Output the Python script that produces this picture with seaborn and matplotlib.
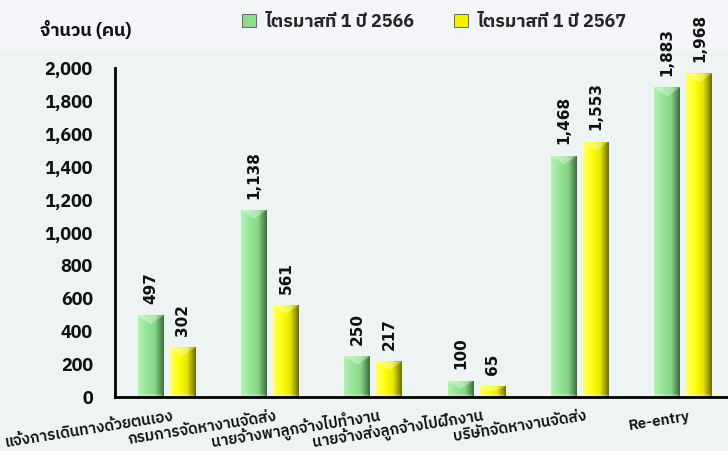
import numpy as np
import pandas as pd
import matplotlib
matplotlib.use("Agg")
import matplotlib.pyplot as plt
import matplotlib.transforms as mtransforms
from matplotlib.colors import LinearSegmentedColormap
from matplotlib.patches import Patch, Polygon, Rectangle
import seaborn as sns

categories = ['แจ้งการเดินทางด้วยตนเอง', 'กรมการจัดหางานจัดส่ง', 'นายจ้างพาลูกจ้างไปทำงาน',
              'นายจ้างส่งลูกจ้างไปฝึกงาน', 'บริษัทจัดหางานจัดส่ง', 'Re-entry']
series_names = ['ไตรมาสที่ 1 ปี 2566', 'ไตรมาสที่ 1 ปี 2567']
q1_2566 = [497, 1138, 250, 100, 1468, 1883]
q1_2567 = [302, 561, 217, 65, 1553, 1968]
y_ticks = [0, 200, 400, 600, 800, 1000, 1200, 1400, 1600, 1800, 2000]

bg = '#eef3f3'
bg_top = '#f3f5f8'
base_colors = ['#8fdc8f', '#f2f200']
shade_colors = [['#b4f2b4', '#98e498', '#86d486', '#3d6e3d'],
                ['#ffff70', '#ffff10', '#e6e600', '#6f6f00']]
thai = ['IBM Plex Sans Thai', 'DejaVu Sans']

df = pd.DataFrame({
    'cat': categories * 2,
    'val': q1_2566 + q1_2567,
    'series': [series_names[0]] * len(categories) + [series_names[1]] * len(categories),
})

sns.set_theme(style='white')
plt.rcParams['font.family'] = thai

fig = plt.figure(figsize=(7.28, 4.51), dpi=100, facecolor=bg)
# slightly lighter band at the top of the slide
fig.patches.append(Rectangle((0, 1 - 50 / 451), 1, 50 / 451, transform=fig.transFigure,
                             facecolor=bg_top, edgecolor='none', zorder=-1))
ax = fig.add_axes([0.158, 0.1197, 0.8516, 0.7295])
ax.set_facecolor('none')

sns.barplot(data=df, x='cat', y='val', hue='series', palette=base_colors,
            width=0.62, gap=0.19, legend=False, ax=ax, saturation=1)

ax.set_ylim(0, 2000)
ax.set_xlim(-0.5, len(categories) - 0.5)

# bevel look on every bar
px = 2000 / (397 - 68)
for i, cont in enumerate(ax.containers):
    cmap = LinearSegmentedColormap.from_list('b%d' % i, shade_colors[i])
    grad = np.linspace(0, 1, 64).reshape(1, -1)
    for bar in cont:
        x0, w, h = bar.get_x(), bar.get_width(), bar.get_height()
        bar.set_edgecolor('none')
        im = ax.imshow(grad, cmap=cmap, extent=(x0, x0 + w, 0, h), aspect='auto',
                       origin='lower', zorder=bar.get_zorder() + 0.1)
        im.set_clip_path(bar)
        d = min(9 * px, h * 0.5)
        ax.add_patch(Polygon([(x0, h), (x0 + w, h), (x0 + w / 2, h - d)], closed=True,
                             facecolor='white', alpha=0.35, edgecolor='none',
                             zorder=bar.get_zorder() + 0.2))
        ax.add_patch(Polygon([(x0, 0), (x0 + w, 0), (x0 + w * 0.9, 3 * px), (x0 + w * 0.1, 3 * px)],
                             closed=True, facecolor='white', alpha=0.25, edgecolor='none',
                             zorder=bar.get_zorder() + 0.2))
    ax.bar_label(cont, labels=[f'{int(v):,}' for v in cont.datavalues], rotation=90,
                 padding=8, fontsize=11, fontweight='bold', family='DejaVu Sans', color='#111111')

ax.set_ylim(0, 2000)
ax.set_xlim(-0.5, len(categories) - 0.5)
ax.set_yticks(y_ticks)
ax.set_yticklabels([f'{v:,}' for v in y_ticks], fontsize=13, fontweight='bold', family=thai)
ax.tick_params(axis='y', length=0, pad=16, colors='#111111')
ax.set_xticks(range(len(categories)))
ax.set_xticklabels([])
ax.tick_params(axis='x', length=0)
ax.set_xlabel('')
ax.set_ylabel('')

for side in ['top', 'right']:
    ax.spines[side].set_visible(False)
for side in ['left', 'bottom']:
    ax.spines[side].set_color('black')
    ax.spines[side].set_linewidth(2)

# category labels, slightly tilted
tr = ax.get_xaxis_transform() + mtransforms.ScaledTranslation(7 / 100, -23 / 100, fig.dpi_scale_trans)
for i, lab in enumerate(categories):
    ax.text(i, 0, lab, transform=tr, rotation=9, rotation_mode='anchor', ha='right', va='baseline',
            fontsize=11, fontweight='semibold', family=thai, color='#111111', clip_on=False)

fig.text(40 / 728, 1 - 30 / 451, 'จำนวน (คน)', fontsize=13, fontweight='bold', family=thai,
         va='center', ha='left', color='#111111')

handles = [Patch(facecolor=base_colors[k], edgecolor='#555555', linewidth=0.6) for k in range(2)]
fig.legend(handles, series_names, loc='center left', bbox_to_anchor=(233 / 728, 1 - 22 / 451), ncol=2,
           frameon=False, borderpad=0, handlelength=0.75, handleheight=0.75, handletextpad=0.55,
           columnspacing=2.2, prop={'family': thai, 'size': 13, 'weight': 'bold'})

fig.savefig('out.png', dpi=100, facecolor=bg)
